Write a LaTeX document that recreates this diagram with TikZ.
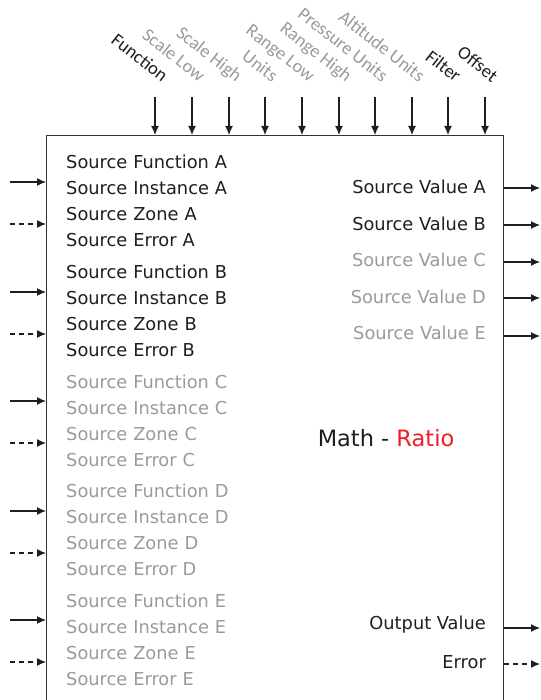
\documentclass[tikz,border=0pt]{standalone}
\usepackage{fontspec}
\setmainfont{DejaVu Sans}
\newfontfamily\topfont{Carlito}
\usepackage{tikz}
\usetikzlibrary{arrows.meta,positioning,calc}
\definecolor{txtdark}{HTML}{1E1E1E}
\definecolor{txtgray}{HTML}{9A9A9A}
\definecolor{ratiored}{HTML}{EE1C25}
\definecolor{linegray}{HTML}{333333}

\begin{document}
\begin{tikzpicture}[
  x=1pt, y=-1pt,
  node distance=0pt,
  block/.style={draw=linegray, line width=1.2pt, anchor=north west, minimum width=457pt, minimum height=600pt, inner sep=0pt},
  inlbl/.style={text width=185pt, align=left, inner xsep=0pt, inner ysep=4pt, text height=13.5pt, text depth=4pt, font=\fontsize{17.8}{17.8}\selectfont, text=txtdark},
  outlbl/.style={anchor=east, inner sep=0pt, font=\fontsize{17.8}{17.8}\selectfont, text=txtdark},
  toplbl/.style={anchor=base east, rotate=-38, inner sep=0pt, font=\topfont\fontsize{18.5}{18.5}\selectfont, text=txtdark},
  off/.style={text=txtgray},
  sig/.style={-{Latex[length=9pt,width=8pt]}, line width=1.2pt, draw=txtdark},
  errsig/.style={sig, dash pattern=on 5pt off 4pt}
]
\useasboundingbox (0,0) rectangle (540,700);

% block
\node[block] (blk) at (46,135) {};
\node[font=\fontsize{22.5}{22.5}\selectfont, text=txtdark] (title) at (386,438) {Math - \textcolor{ratiored}{Ratio}};

% top inputs
\coordinate (tFunc) at (155,97);
\coordinate (tScLo) at (192,97);
\coordinate (tScHi) at (229,97);
\coordinate (tUnits) at (265,97);
\coordinate (tRgLo) at (302,97);
\coordinate (tRgHi) at (339,97);
\coordinate (tPrU) at (375,97);
\coordinate (tAltU) at (412,97);
\coordinate (tFilt) at (448,97);
\coordinate (tOffs) at (485,97);
\node[toplbl] (lFunc) at ($(tFunc)+(7,-14)$) {Function};
\node[toplbl, off] (lScLo) at ($(tScLo)+(7,-14)$) {Scale Low};
\node[toplbl, off] (lScHi) at ($(tScHi)+(7,-14)$) {Scale High};
\node[toplbl, off] (lUnits) at ($(tUnits)+(7,-14)$) {Units};
\node[toplbl, off] (lRgLo) at ($(tRgLo)+(7,-14)$) {Range Low};
\node[toplbl, off] (lRgHi) at ($(tRgHi)+(7,-14)$) {Range High};
\node[toplbl, off] (lPrU) at ($(tPrU)+(7,-14)$) {Pressure Units};
\node[toplbl, off] (lAltU) at ($(tAltU)+(7,-14)$) {Altitude Units};
\node[toplbl] (lFilt) at ($(tFilt)+(7,-14)$) {Filter};
\node[toplbl] (lOffs) at ($(tOffs)+(7,-14)$) {Offset};
\draw[sig] (tFunc) -- (tFunc |- blk.north);
\draw[sig] (tScLo) -- (tScLo |- blk.north);
\draw[sig] (tScHi) -- (tScHi |- blk.north);
\draw[sig] (tUnits) -- (tUnits |- blk.north);
\draw[sig] (tRgLo) -- (tRgLo |- blk.north);
\draw[sig] (tRgHi) -- (tRgHi |- blk.north);
\draw[sig] (tPrU) -- (tPrU |- blk.north);
\draw[sig] (tAltU) -- (tAltU |- blk.north);
\draw[sig] (tFilt) -- (tFilt |- blk.north);
\draw[sig] (tOffs) -- (tOffs |- blk.north);

% source A
\node[inlbl, anchor=west] (srcFuncA) at (66,164) {Source Function A};
\node[inlbl, below=of srcFuncA] (srcInstA) {Source Instance A};
\node[inlbl, below=of srcInstA] (srcZoneA) {Source Zone A};
\node[inlbl, below=of srcZoneA] (srcErrA) {Source Error A};
% source B
\node[inlbl, anchor=west] (srcFuncB) at (66,274) {Source Function B};
\node[inlbl, below=of srcFuncB] (srcInstB) {Source Instance B};
\node[inlbl, below=of srcInstB] (srcZoneB) {Source Zone B};
\node[inlbl, below=of srcZoneB] (srcErrB) {Source Error B};
% source C
\node[inlbl, off, anchor=west] (srcFuncC) at (66,384) {Source Function C};
\node[inlbl, off, below=of srcFuncC] (srcInstC) {Source Instance C};
\node[inlbl, off, below=of srcInstC] (srcZoneC) {Source Zone C};
\node[inlbl, off, below=of srcZoneC] (srcErrC) {Source Error C};
% source D
\node[inlbl, off, anchor=west] (srcFuncD) at (66,493) {Source Function D};
\node[inlbl, off, below=of srcFuncD] (srcInstD) {Source Instance D};
\node[inlbl, off, below=of srcInstD] (srcZoneD) {Source Zone D};
\node[inlbl, off, below=of srcZoneD] (srcErrD) {Source Error D};
% source E
\node[inlbl, off, anchor=west] (srcFuncE) at (66,603) {Source Function E};
\node[inlbl, off, below=of srcFuncE] (srcInstE) {Source Instance E};
\node[inlbl, off, below=of srcInstE] (srcZoneE) {Source Zone E};
\node[inlbl, off, below=of srcZoneE] (srcErrE) {Source Error E};

% left inputs
\coordinate (inA) at (10,182);
\coordinate (inErrA) at (10,224);
\coordinate (inB) at (10,292);
\coordinate (inErrB) at (10,334);
\coordinate (inC) at (10,401);
\coordinate (inErrC) at (10,443);
\coordinate (inD) at (10,511);
\coordinate (inErrD) at (10,553);
\coordinate (inE) at (10,620);
\coordinate (inErrE) at (10,662);
\draw[sig] (inA) -- (inA -| blk.west);
\draw[errsig] (inErrA) -- (inErrA -| blk.west);
\draw[sig] (inB) -- (inB -| blk.west);
\draw[errsig] (inErrB) -- (inErrB -| blk.west);
\draw[sig] (inC) -- (inC -| blk.west);
\draw[errsig] (inErrC) -- (inErrC -| blk.west);
\draw[sig] (inD) -- (inD -| blk.west);
\draw[errsig] (inErrD) -- (inErrD -| blk.west);
\draw[sig] (inE) -- (inE -| blk.west);
\draw[errsig] (inErrE) -- (inErrE -| blk.west);

% outputs
\node[outlbl] (valA) at (486,187) {Source Value A};
\node[outlbl] (valB) at (486,224) {Source Value B};
\node[outlbl, off] (valC) at (486,260) {Source Value C};
\node[outlbl, off] (valD) at (486,297) {Source Value D};
\node[outlbl, off] (valE) at (486,333) {Source Value E};
\node[outlbl] (outVal) at (486,625) {Output Value};
\node[outlbl] (outErr) at (486,662) {Error};
\coordinate (oA) at (540,188);
\coordinate (oB) at (540,225);
\coordinate (oC) at (540,262);
\coordinate (oD) at (540,298);
\coordinate (oE) at (540,336);
\coordinate (oVal) at (540,628);
\coordinate (oErr) at (540,664);
\draw[sig] (oA -| blk.east) -- (oA);
\draw[sig] (oB -| blk.east) -- (oB);
\draw[sig] (oC -| blk.east) -- (oC);
\draw[sig] (oD -| blk.east) -- (oD);
\draw[sig] (oE -| blk.east) -- (oE);
\draw[sig] (oVal -| blk.east) -- (oVal);
\draw[errsig] (oErr -| blk.east) -- (oErr);
\end{tikzpicture}
\end{document}
